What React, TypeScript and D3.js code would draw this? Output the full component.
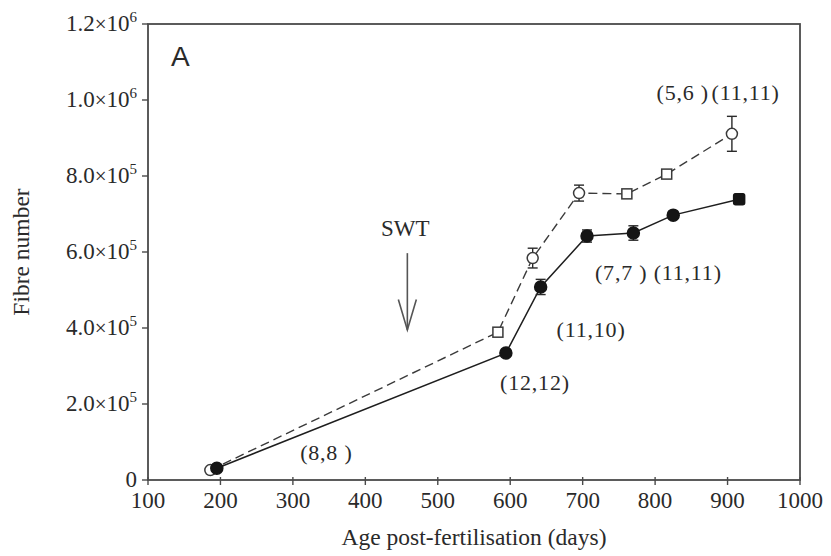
import React from "react";
import * as d3 from "d3";

// Age post-fertilisation (days) and fibre number for the two groups
const openDays = [186, 583, 631, 695, 761, 816, 906];
const openValues = [26000, 389000, 584000, 755000, 753000, 805000, 911000];
const openErrors = [0, 6000, 26000, 21000, 9000, 8000, 46000];
const openShapes = ["circle", "square", "circle", "circle", "square", "square", "circle"];

const filledDays = [195, 594, 642, 706, 770, 825, 916];
const filledValues = [31000, 334000, 508000, 642000, 650000, 697000, 739000];
const filledErrors = [0, 0, 20000, 16000, 19000, 8000, 13000];
const filledShapes = ["circle", "circle", "circle", "circle", "circle", "circle", "square"];

const xTicks = [100, 200, 300, 400, 500, 600, 700, 800, 900, 1000];
const yTicks = [0, 200000, 400000, 600000, 800000, 1000000, 1200000];
const yTickMantissa = ["0", "2.0", "4.0", "6.0", "8.0", "1.0", "1.2"];
const yTickExponent = ["", "5", "5", "5", "5", "6", "6"];

// Sample-size annotations, anchored in data units (day, fibre number)
const nLabels = ["(5,6 )", "(11,11)", "(7,7 )", "(11,11)", "(11,10)", "(12,12)", "(8,8 )"];
const nLabelDays = [802, 878, 717, 798, 664, 586, 310];
const nLabelValues = [1000000, 1000000, 526000, 526000, 376000, 237000, 53000];

const W = 831;
const H = 556;
const margin = { left: 148, right: 31, top: 24, bottom: 76 };
const serif = "'Liberation Serif', 'Times New Roman', serif";
const ink = "#2a2a2a";

function Marker({ x, y, shape, filled }: { x: number; y: number; shape: string; filled: boolean }) {
  const fill = filled ? "#151515" : "#ffffff";
  const stroke = filled ? "#151515" : "#3a3a3a";
  if (shape === "square") {
    const s = filled ? 11 : 10;
    return <rect x={x - s / 2} y={y - s / 2} width={s} height={s} rx={filled ? 2 : 0} fill={fill} stroke={stroke} strokeWidth={1.5} />;
  }
  return <circle cx={x} cy={y} r={filled ? 6 : 5.5} fill={fill} stroke={stroke} strokeWidth={1.5} />;
}

export default function App() {
  const x = d3.scaleLinear().domain([100, 1000]).range([margin.left, W - margin.right]);
  const y = d3.scaleLinear().domain([0, 1200000]).range([H - margin.bottom, margin.top]);
  const line = d3.line<[number, number]>().x((d) => x(d[0])).y((d) => y(d[1]));

  const openPts = openDays.map((d, i) => [d, openValues[i]] as [number, number]);
  const filledPts = filledDays.map((d, i) => [d, filledValues[i]] as [number, number]);

  const errorBars = (days: number[], vals: number[], errs: number[], key: string) =>
    days.map((d, i) =>
      errs[i] > 0 ? (
        <g key={key + i} stroke={ink} strokeWidth={1.4}>
          <line x1={x(d)} x2={x(d)} y1={y(vals[i] - errs[i])} y2={y(vals[i] + errs[i])} />
          <line x1={x(d) - 5} x2={x(d) + 5} y1={y(vals[i] - errs[i])} y2={y(vals[i] - errs[i])} />
          <line x1={x(d) - 5} x2={x(d) + 5} y1={y(vals[i] + errs[i])} y2={y(vals[i] + errs[i])} />
        </g>
      ) : null
    );

  const [x0, x1] = x.range();
  const [y0, y1] = y.range();

  const swtDay = 458;

  return (
    <svg width={W} height={H} style={{ position: "absolute", left: 0, top: 0, background: "#fff" }}>
      {/* plot frame */}
      <rect x={x0} y={y1} width={x1 - x0} height={y0 - y1} fill="none" stroke="#4a4a4a" strokeWidth={1.8} />

      {/* x axis ticks and labels */}
      {xTicks.map((t) => (
        <g key={"xt" + t}>
          <line x1={x(t)} x2={x(t)} y1={y0 - 3} y2={y0 + 5} stroke="#4a4a4a" strokeWidth={1.4} />
          <text x={x(t)} y={y0 + 28} textAnchor="middle" fontFamily={serif} fontSize={23} fill={ink}>
            {t}
          </text>
        </g>
      ))}

      {/* y axis ticks and labels */}
      {yTicks.map((t, i) => (
        <g key={"yt" + t}>
          <line x1={x0 - 6} x2={x0} y1={y(t)} y2={y(t)} stroke="#4a4a4a" strokeWidth={1.4} />
          <text x={x0 - 11} y={y(t) + 7} textAnchor="end" fontFamily={serif} fontSize={23} fill={ink}>
            {yTickExponent[i] ? (
              <>
                {yTickMantissa[i]}
                <tspan fontSize={21}>×</tspan>
                10
                <tspan fontSize={15} dy={-9}>
                  {yTickExponent[i]}
                </tspan>
              </>
            ) : (
              yTickMantissa[i]
            )}
          </text>
        </g>
      ))}

      {/* axis titles */}
      <text x={(x0 + x1) / 2} y={545} textAnchor="middle" fontFamily={serif} fontSize={23.5} fill={ink}>
        Age post-fertilisation (days)
      </text>
      <text
        transform={`translate(29, ${(y0 + y1) / 2}) rotate(-90)`}
        textAnchor="middle"
        fontFamily={serif}
        fontSize={23.5}
        fill={ink}
      >
        Fibre number
      </text>

      {/* panel letter */}
      <text x={171} y={66} fontFamily="'Liberation Sans', Arial, sans-serif" fontSize={28} fill={ink}>
        A
      </text>

      {/* SWT arrow */}
      <text x={x(swtDay) - 2} y={y(642000)} textAnchor="middle" fontFamily={serif} fontSize={23} fill={ink}>
        SWT
      </text>
      <g stroke="#555" strokeWidth={1.6} fill="none">
        <line x1={x(swtDay)} x2={x(swtDay)} y1={y(597000)} y2={y(395000)} />
        <polyline
          points={`${x(swtDay) - 9},${y(475000)} ${x(swtDay)},${y(395000)} ${x(swtDay) + 9},${y(475000)}`}
        />
      </g>

      {/* series lines */}
      <path d={line(openPts) || ""} fill="none" stroke="#3a3a3a" strokeWidth={1.4} strokeDasharray="9,5" />
      <path d={line(filledPts) || ""} fill="none" stroke="#1e1e1e" strokeWidth={1.5} />

      {errorBars(openDays, openValues, openErrors, "oe")}
      {errorBars(filledDays, filledValues, filledErrors, "fe")}

      {openPts.map((p, i) => (
        <Marker key={"om" + i} x={x(p[0])} y={y(p[1])} shape={openShapes[i]} filled={false} />
      ))}
      {filledPts.map((p, i) => (
        <Marker key={"fm" + i} x={x(p[0])} y={y(p[1])} shape={filledShapes[i]} filled={true} />
      ))}

      {/* sample sizes */}
      {nLabels.map((s, i) => (
        <text
          key={"nl" + i}
          x={x(nLabelDays[i])}
          y={y(nLabelValues[i])}
          fontFamily={serif}
          fontSize={22}
          letterSpacing={0.8}
          fill={ink}
        >
          {s}
        </text>
      ))}
    </svg>
  );
}
